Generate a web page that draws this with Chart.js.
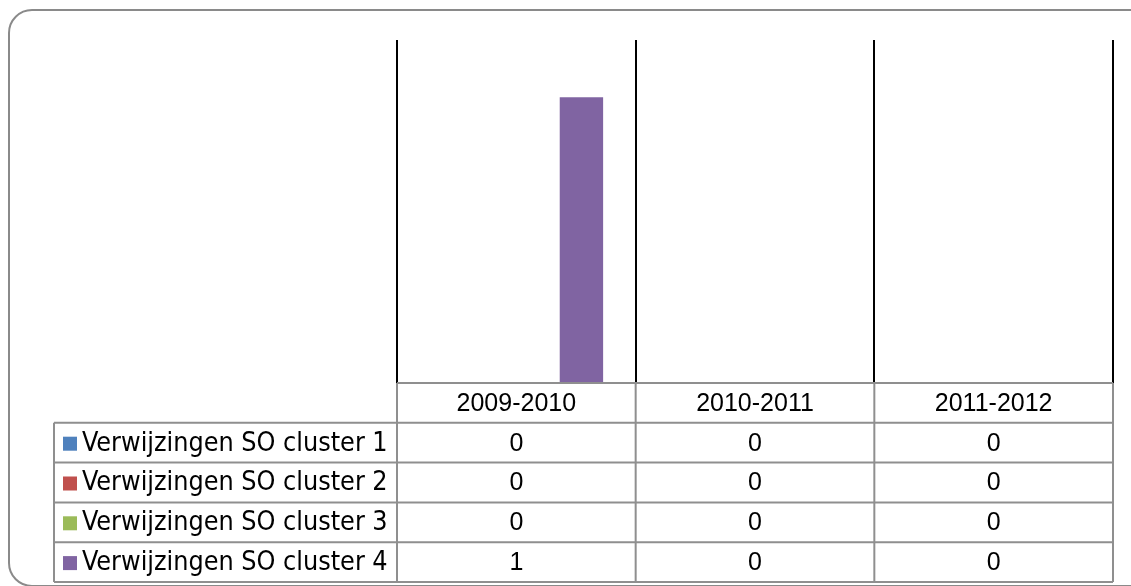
<!DOCTYPE html>
<html>
<head>
<meta charset="utf-8">
<script src="https://cdn.jsdelivr.net/npm/chart.js@4"></script>
<style>
  body { margin: 0; background: #fff; overflow: hidden; }
  .frame {
    position: absolute; left: 8px; top: 9px; width: 1150px; height: 578px;
    border: 2px solid #8a8a8a; border-radius: 24px; box-sizing: border-box;
  }
  .chart-root { position: absolute; left: 0; top: 0; width: 1131px; height: 586px; }
</style>
</head>
<body>
<div class="frame"></div>
<div class="chart-root"><canvas id="myChart" width="1131" height="586"></canvas></div>
<script>
const years = ['2009-2010', '2010-2011', '2011-2012'];
const seriesNames = ['Verwijzingen SO cluster 1', 'Verwijzingen SO cluster 2', 'Verwijzingen SO cluster 3', 'Verwijzingen SO cluster 4'];
const cluster1 = [0, 0, 0];
const cluster2 = [0, 0, 0];
const cluster3 = [0, 0, 0];
const cluster4 = [1, 0, 0];
const seriesColors = ['#4f81bd', '#c0504d', '#9bbb59', '#8064a2'];

const allValues = [cluster1, cluster2, cluster3, cluster4];

// data table under the plot, Excel style
const dataTable = {
  id: 'dataTable',
  afterDraw(chart) {
    const ctx = chart.ctx;
    const xs = chart.scales.x;
    const area = chart.chartArea;
    const rowH = 39.8;
    const top = area.bottom;
    const labelLeft = 54;
    const colW = xs.getPixelForValue(1) - xs.getPixelForValue(0);
    const edges = [];
    for (let i = 0; i < years.length; i++) edges.push(xs.getPixelForValue(i) - colW / 2);
    edges.push(xs.getPixelForValue(years.length - 1) + colW / 2);
    const right = edges[edges.length - 1];
    const nRows = seriesNames.length;

    ctx.save();
    ctx.strokeStyle = '#8f8f8f';
    ctx.lineWidth = 2;
    ctx.beginPath();
    ctx.moveTo(edges[0], top); ctx.lineTo(right, top);
    for (let r = 1; r <= nRows + 1; r++) {
      const y = top + r * rowH;
      ctx.moveTo(labelLeft, y); ctx.lineTo(right, y);
    }
    ctx.moveTo(labelLeft, top + rowH); ctx.lineTo(labelLeft, top + (nRows + 1) * rowH);
    edges.forEach(x => { ctx.moveTo(x, top); ctx.lineTo(x, top + (nRows + 1) * rowH); });
    ctx.stroke();

    // label font sized so the longest name fills the label column
    ctx.font = '23px "DejaVu Sans Condensed"';
    const w = ctx.measureText(seriesNames[0]).width;
    const labelFont = (23 * 306 / w).toFixed(1) + 'px "DejaVu Sans Condensed"';
    const numFont = '25px "Liberation Sans"';

    ctx.fillStyle = '#000';
    ctx.textBaseline = 'middle';
    ctx.textAlign = 'center';
    ctx.font = numFont;
    years.forEach((y, i) => ctx.fillText(y, xs.getPixelForValue(i), top + rowH / 2 + 1));

    for (let r = 0; r < nRows; r++) {
      const cy = top + (r + 1.5) * rowH + 1;
      ctx.font = numFont;
      ctx.textAlign = 'center';
      allValues[r].forEach((v, i) => ctx.fillText(String(v), xs.getPixelForValue(i), cy));
      ctx.fillStyle = seriesColors[r];
      ctx.fillRect(63, cy - 7, 14, 14);
      ctx.fillStyle = '#000';
      ctx.textAlign = 'left';
      ctx.font = labelFont;
      ctx.fillText(seriesNames[r], 82, cy);
    }
    ctx.restore();
  }
};

const ctx = document.getElementById('myChart');
const myChart = new Chart(ctx, {
  type: 'bar',
  data: {
    labels: years,
    datasets: seriesNames.map((name, i) => ({
      label: name,
      data: allValues[i],
      backgroundColor: seriesColors[i],
      borderWidth: 0,
      categoryPercentage: 4 / 5.5,
      barPercentage: 1,
    })),
  },
  options: {
    responsive: false,
    animation: false,
    layout: { padding: { left: 397, right: 18, top: 40, bottom: 203 } },
    plugins: { legend: { display: false }, tooltip: { enabled: false } },
    scales: {
      x: {
        ticks: { display: false },
        grid: { color: '#000', lineWidth: 2, drawTicks: false },
        border: { display: false },
      },
      y: { display: false, min: 0, max: 1.2 },
    },
  },
  plugins: [dataTable],
});
</script>
</body>
</html>
